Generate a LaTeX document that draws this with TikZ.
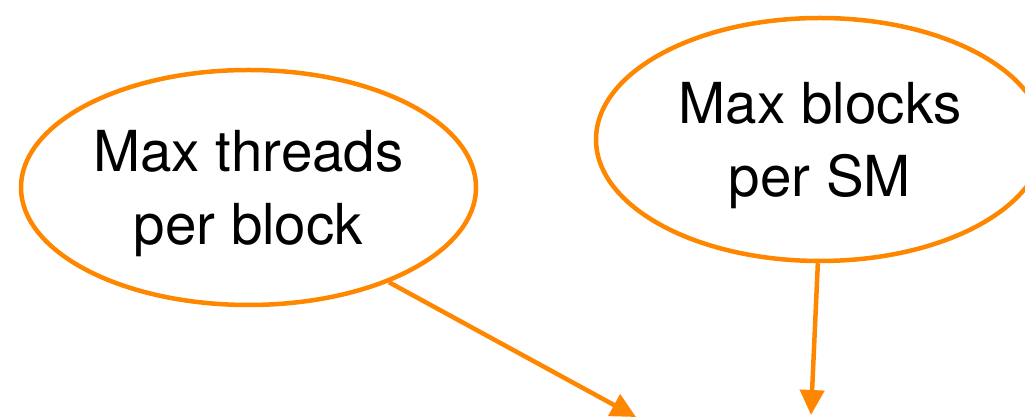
\documentclass[tikz,border=0pt]{standalone}
\usepackage{fontspec}
\setmainfont{TeX Gyre Heros}
\usetikzlibrary{shapes.geometric, arrows.meta}
\definecolor{limitorange}{RGB}{255,135,0}
\begin{document}
\begin{tikzpicture}[x=1pt, y=1pt,
    limit/.style={ellipse, draw=limitorange, line width=4.5pt, inner sep=0pt,
        align=center, font=\fontsize{56.5}{73}\selectfont, text depth=0pt},
    feed/.style={draw=limitorange, line width=4.5pt,
        -{Triangle[length=25pt, width=24pt]}}]
    \useasboundingbox (0,0) rectangle (1025,419);

    % Limits
    \node[limit, minimum width=455pt, minimum height=235pt] (threads) at (248.5, 231.5) {Max threads\\per block};
    \node[limit, minimum width=448pt, minimum height=243pt] (blocks) at (820, 279.5) {Max blocks\\per SM};

    % Arrow ends
    \coordinate (threadsEnd) at (636, 2);
    \coordinate (blocksEnd) at (811, 4);

    % Arrows
    \draw[feed] (threads.-34) -- (threadsEnd);
    \draw[feed] (blocks.-91.4) -- (blocksEnd);
\end{tikzpicture}
\end{document}
